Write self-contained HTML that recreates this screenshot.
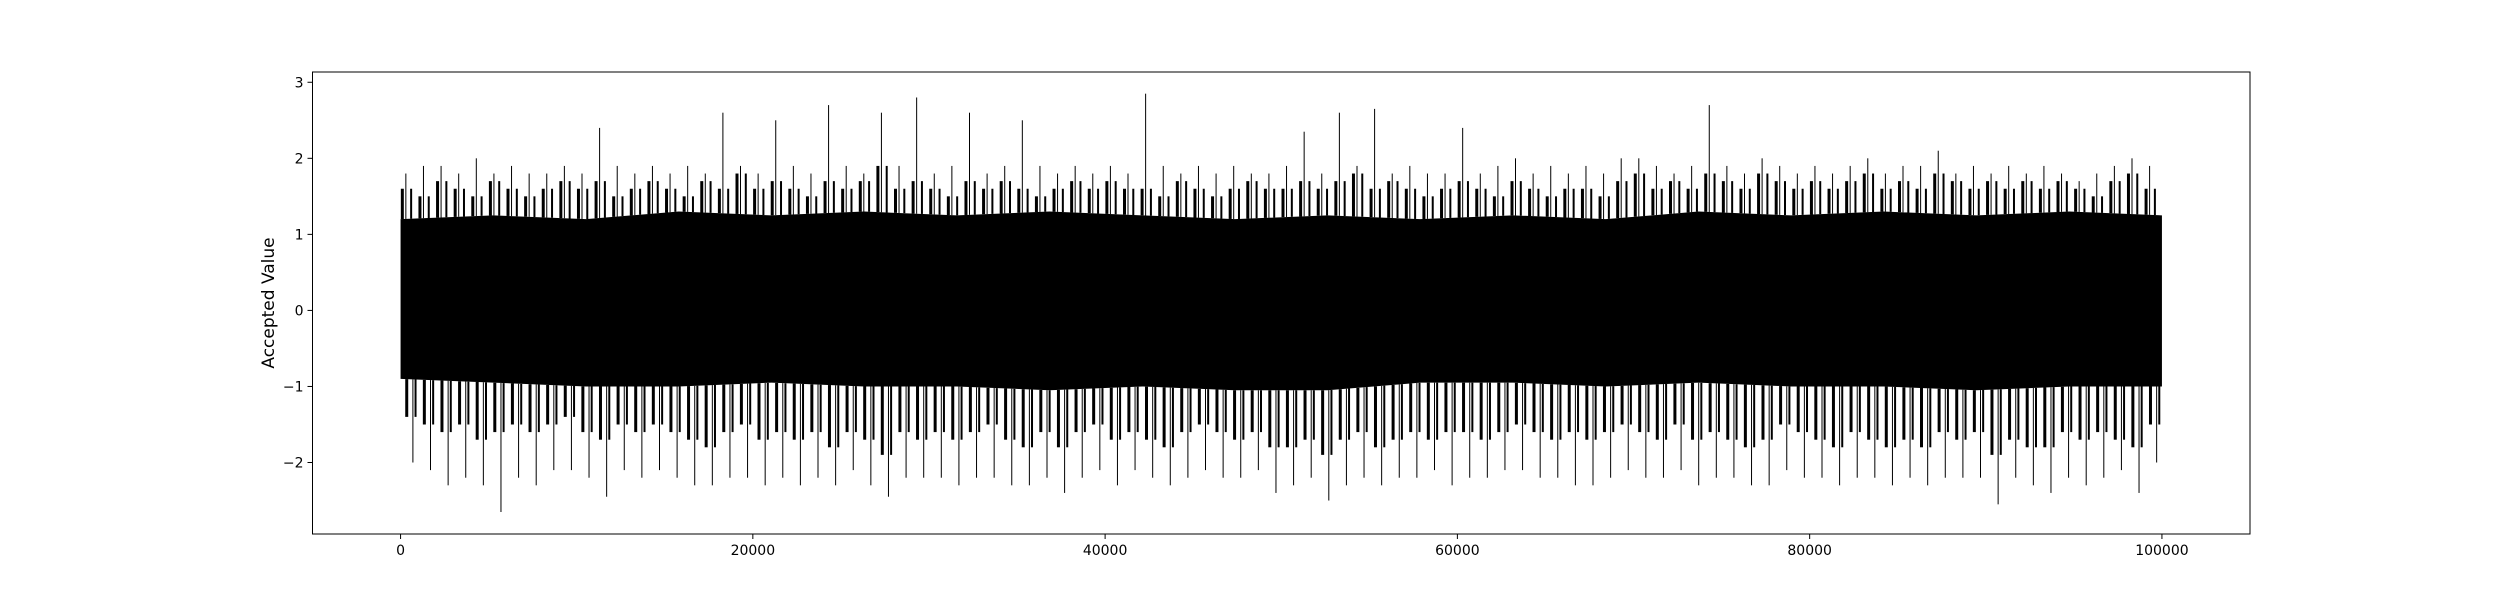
<!DOCTYPE html>
<html><head><meta charset="utf-8"><style>
html,body{margin:0;padding:0;background:#fff;}
svg text{font-family:"DejaVu Sans","Liberation Sans",sans-serif;fill:#000;}
</style></head><body>
<svg id="chart" width="2500" height="600" viewBox="0 0 2500 600" xmlns="http://www.w3.org/2000/svg">
<rect x="0" y="0" width="2500" height="600" fill="#fff"/>
<g id="plot"></g>
<g id="axes"></g>
</svg>
<script>
const xTicks = [0, 20000, 40000, 60000, 80000, 100000];
const yTicks = [-2, -1, 0, 1, 2, 3];
const binSize = 1000;
const peakHi = [1.8,1.9,1.9,1.8,2.0,1.8,1.9,1.8,1.8,1.9,
1.8,2.4,1.9,1.8,1.9,1.8,1.9,1.8,2.6,1.9,
1.8,2.5,1.9,1.8,2.7,1.9,1.8,2.6,1.9,2.8,
1.8,1.9,2.6,1.8,1.9,2.5,1.9,1.8,1.9,1.8,
1.9,1.8,2.85,1.9,1.8,1.9,1.8,1.9,1.8,1.8,
1.9,2.35,1.8,2.6,1.9,2.65,1.8,1.9,1.8,1.8,
2.4,1.8,1.9,2.0,1.8,1.9,1.8,1.9,1.8,2.0,
2.0,1.9,1.8,1.9,2.7,1.9,1.8,2.0,1.9,1.8,
1.9,1.8,1.9,2.0,1.8,1.9,1.9,2.1,1.8,1.9,
1.8,1.9,1.8,1.9,1.8,1.7,1.8,1.9,2.0,1.9];
const peakLo = [-2.0,-2.1,-2.3,-2.2,-2.3,-2.65,-2.2,-2.3,-2.1,-2.1,
-2.2,-2.45,-2.1,-2.2,-2.1,-2.2,-2.3,-2.3,-2.2,-2.2,
-2.3,-2.2,-2.3,-2.2,-2.3,-2.1,-2.3,-2.45,-2.2,-2.2,
-2.2,-2.3,-2.2,-2.2,-2.3,-2.3,-2.2,-2.4,-2.2,-2.1,
-2.3,-2.1,-2.2,-2.3,-2.2,-2.1,-2.2,-2.2,-2.1,-2.4,
-2.3,-2.2,-2.5,-2.3,-2.2,-2.3,-2.2,-2.2,-2.1,-2.3,
-2.2,-2.2,-2.1,-2.1,-2.2,-2.2,-2.3,-2.3,-2.2,-2.1,
-2.2,-2.2,-2.1,-2.3,-2.2,-2.2,-2.3,-2.3,-2.1,-2.2,
-2.2,-2.3,-2.2,-2.2,-2.3,-2.2,-2.3,-2.2,-2.2,-2.2,
-2.55,-2.2,-2.3,-2.4,-2.2,-2.3,-2.2,-2.1,-2.4,-2.0];
const midHi = [1.6,1.5,1.7,1.6,1.5,1.7,1.6,1.5,1.6,1.7,
1.6,1.7,1.5,1.6,1.7,1.6,1.5,1.7,1.6,1.8,
1.6,1.7,1.6,1.5,1.7,1.6,1.7,1.9,1.6,1.7,
1.6,1.5,1.7,1.6,1.7,1.6,1.5,1.6,1.7,1.6,
1.7,1.6,1.6,1.5,1.7,1.6,1.5,1.6,1.7,1.6,
1.6,1.7,1.6,1.7,1.8,1.6,1.7,1.6,1.5,1.6,
1.7,1.6,1.5,1.7,1.6,1.5,1.6,1.6,1.5,1.7,
1.8,1.6,1.7,1.6,1.8,1.7,1.6,1.8,1.7,1.6,
1.7,1.6,1.7,1.8,1.6,1.7,1.6,1.8,1.7,1.6,
1.7,1.6,1.7,1.6,1.7,1.6,1.5,1.7,1.8,1.6];
const midLo = [-1.4,-1.5,-1.6,-1.5,-1.7,-1.6,-1.5,-1.6,-1.5,-1.4,
-1.6,-1.7,-1.5,-1.6,-1.5,-1.6,-1.7,-1.8,-1.6,-1.5,
-1.7,-1.6,-1.7,-1.6,-1.8,-1.6,-1.7,-1.9,-1.6,-1.7,
-1.6,-1.7,-1.6,-1.5,-1.7,-1.8,-1.6,-1.8,-1.6,-1.5,
-1.7,-1.6,-1.7,-1.8,-1.6,-1.5,-1.6,-1.7,-1.6,-1.8,
-1.8,-1.7,-1.9,-1.7,-1.6,-1.8,-1.7,-1.6,-1.7,-1.6,
-1.6,-1.7,-1.6,-1.5,-1.6,-1.7,-1.6,-1.7,-1.6,-1.5,
-1.6,-1.7,-1.5,-1.7,-1.6,-1.7,-1.8,-1.7,-1.5,-1.6,
-1.7,-1.8,-1.6,-1.7,-1.8,-1.7,-1.8,-1.6,-1.7,-1.6,
-1.9,-1.7,-1.8,-1.8,-1.6,-1.7,-1.6,-1.7,-1.8,-1.5];
const coreHi = [1.2,1.25,1.2,1.3,1.25,1.3,1.25,1.3,1.25,1.2,1.25,1.2,1.25,1.2,1.3,1.25,1.3,1.25,1.3,1.25];
const coreLo = [-0.9,-0.95,-1.0,-1.0,-0.95,-1.0,-1.0,-1.05,-1.0,-1.05,-1.05,-0.95,-0.95,-1.0,-0.95,-1.0,-1.0,-1.05,-1.0,-1.0];

const L=312.5,R=2250,T=72,B=534;
const xMin=-5000,xMax=105000,yMin=-2.94,yMax=3.135;
const sx=v=>L+(v-xMin)/(xMax-xMin)*(R-L);
const sy=v=>B-(v-yMin)/(yMax-yMin)*(B-T);
const NS="http://www.w3.org/2000/svg";
const plot=document.getElementById('plot'), axes=document.getElementById('axes');
function mk(t,a,p){const e=document.createElementNS(NS,t);for(const k in a)e.setAttribute(k,a[k]);p.appendChild(e);return e;}

// core band (smooth)
const span=100000/(coreHi.length-1);
let pts=[];
coreHi.forEach((v,i)=>{pts.push(sx(i*span)+','+sy(v));});
for(let i=coreLo.length-1;i>=0;i--){pts.push(sx(i*span)+','+sy(coreLo[i]));}
const band=mk('polygon',{points:pts.join(' '),fill:'#000'},plot);



function coreAt(arr,x){const i=Math.min(arr.length-2,Math.floor(x/span));const f=x/span-i;return arr[i]*(1-f)+arr[i+1]*f;}

function spikes(arr,frac,core,w,name){
  arr.forEach((v,i)=>{
    const xv=i*binSize+binSize*frac;
    const x=sx(xv);
    const ln=mk('line',{x1:x,x2:x,y1:sy(coreAt(core,xv)),y2:sy(v),stroke:'#000','stroke-width':w},plot);
    
    
  });
}
spikes(midHi,0.1,coreHi,3,'trace-fringe-high');
spikes(midHi,0.6,coreHi,2,'trace-fringe-high');
spikes(midLo,0.35,coreLo,3,'trace-fringe-low');
spikes(midLo,0.85,coreLo,2,'trace-fringe-low');
spikes(peakHi,0.3,coreHi,1,'trace-spike-high');
spikes(peakLo,0.7,coreLo,1,'trace-spike-low');

const fr=mk('rect',{x:L,y:T,width:R-L,height:B-T,fill:'none',stroke:'#000','stroke-width':1},axes);



xTicks.forEach(v=>{
  const x=sx(v);
  const tk=mk('line',{x1:x,x2:x,y1:B,y2:B+5,stroke:'#000','stroke-width':1},axes);
  
  
  const t=mk('text',{x:x,y:B+21,'text-anchor':'middle','font-size':14},axes);
  t.textContent=String(v);
  
  
});
yTicks.forEach(v=>{
  const y=sy(v);
  const tk=mk('line',{x1:L-5,x2:L,y1:y,y2:y,stroke:'#000','stroke-width':1},axes);
  
  
  const t=mk('text',{x:L-9,y:y+5,'text-anchor':'end','font-size':14},axes);
  t.textContent=v<0?'\u2212'+Math.abs(v):String(v);
  
  
});
const yl=mk('text',{x:0,y:0,'text-anchor':'middle','font-size':17,transform:'translate(274,'+((T+B)/2)+') rotate(-90)'},axes);
yl.textContent='Accepted Value';


</script>
</body></html>
